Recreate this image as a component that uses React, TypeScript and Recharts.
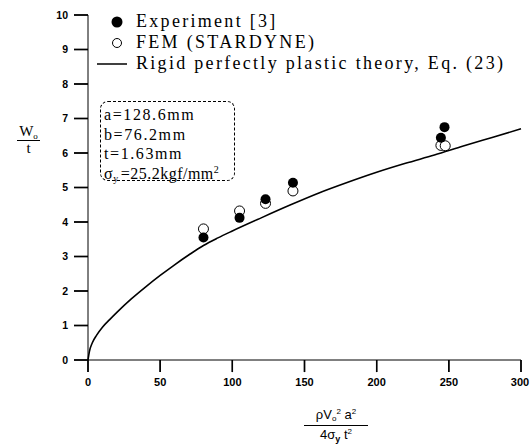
import React from "react";
import { ComposedChart, Scatter, Line, XAxis, YAxis, ReferenceLine } from "recharts";

// Experiment [3] (filled circles)
const expX = [80, 105, 123, 142, 244.5, 247];
const expY = [3.55, 4.12, 4.66, 5.14, 6.44, 6.75];

// FEM (STARDYNE) (open circles)
const femX = [80, 105, 123, 142, 244.5, 247.5];
const femY = [3.8, 4.32, 4.54, 4.9, 6.22, 6.21];

// Rigid perfectly plastic theory, Eq. (23)
const theoryX = [0, 1, 3, 6, 10, 15, 20, 30, 40, 50, 60, 70, 80, 90, 100, 120, 140, 160, 180, 200, 220, 240, 260, 280, 300];
const theoryY = [0, 0.25, 0.5, 0.72, 0.95, 1.17, 1.38, 1.77, 2.12, 2.45, 2.76, 3.05, 3.32, 3.54, 3.74, 4.12, 4.49, 4.84, 5.15, 5.44, 5.7, 5.94, 6.2, 6.45, 6.7];

const xTicks = [0, 50, 100, 150, 200, 250, 300];
const yTicks = [0, 1, 2, 3, 4, 5, 6, 7, 8, 9, 10];

const toPoints = (xs: number[], ys: number[]) => xs.map((x, i) => ({ x, y: ys[i] }));

const expData = toPoints(expX, expY);
const femData = toPoints(femX, femY);
const theoryData = toPoints(theoryX, theoryY);

const serif = "'Liberation Serif', 'Times New Roman', serif";
const sans = "'Liberation Sans', Arial, sans-serif";

// tick mark lengths, in axis units (about 14px / 12px)
const Y_TICK_LEN = 9.7;
const X_TICK_LEN = 0.35;

const sub = (size: number): React.CSSProperties => ({ fontSize: size, lineHeight: 0, verticalAlign: "-0.3em" });
const sup = (size: number): React.CSSProperties => ({ fontSize: size, lineHeight: 0, verticalAlign: "0.6em" });

const FilledDot = (props: any) => (
  <circle cx={props.cx} cy={props.cy} r={5} fill="#000" />
);
const OpenDot = (props: any) => (
  <circle cx={props.cx} cy={props.cy} r={5} fill="#fff" stroke="#000" strokeWidth={1} />
);

const XTick = (props: any) => (
  <text x={props.x} y={props.y} dy="0.75em" textAnchor="middle" fill="#000" fontSize={11} fontWeight={700} fontFamily={sans}>
    {props.payload.value}
  </text>
);

const YTick = (props: any) => (
  <text x={props.x} y={props.y} dy="0.36em" textAnchor="end" fill="#000" fontSize={10.5} fontWeight={700} fontFamily={sans}>
    {props.payload.value}
  </text>
);

export default function App() {
  return (
    <div style={{ position: "absolute", left: 0, top: 0, width: 532, height: 447, background: "#fff" }}>
      <ComposedChart width={532} height={447} margin={{ top: 15, right: 11, bottom: 0, left: 0 }}>
        <XAxis
          type="number"
          dataKey="x"
          domain={[0, 300]}
          ticks={xTicks}
          height={87}
          tickSize={12}
          tickMargin={6}
          stroke="#000"
          tickLine={{ stroke: "#000", strokeWidth: 1.4 }}
          tick={XTick}
        />
        <YAxis
          type="number"
          dataKey="y"
          domain={[0, 10]}
          ticks={yTicks}
          width={88}
          tickSize={14}
          tickMargin={6}
          stroke="#000"
          tickLine={{ stroke: "#000", strokeWidth: 1.4 }}
          tick={YTick}
        />
        {yTicks.map((v) => (
          <ReferenceLine
            key={`yt-${v}`}
            segment={[{ x: -Y_TICK_LEN, y: v }, { x: 0, y: v }]}
            ifOverflow="visible"
            stroke="#000"
            strokeWidth={1.4}
          />
        ))}
        {xTicks.map((v) => (
          <ReferenceLine
            key={`xt-${v}`}
            segment={[{ x: v, y: 0 }, { x: v, y: -X_TICK_LEN }]}
            ifOverflow="visible"
            stroke="#000"
            strokeWidth={1.4}
          />
        ))}
        <Line
          data={theoryData}
          dataKey="y"
          type="monotone"
          stroke="#000"
          strokeWidth={1.6}
          dot={false}
          activeDot={false}
          isAnimationActive={false}
        />
        <Scatter data={femData} dataKey="y" shape={OpenDot} isAnimationActive={false} />
        <Scatter data={expData} dataKey="y" shape={FilledDot} isAnimationActive={false} />
      </ComposedChart>

      {/* legend */}
      <svg style={{ position: "absolute", left: 0, top: 0 }} width={140} height={80}>
        <circle cx={117} cy={22} r={5.5} fill="#000" />
        <circle cx={117} cy={43} r={4.5} fill="#fff" stroke="#000" strokeWidth={1} />
        <line x1={97} x2={127} y1={64} y2={64} stroke="#000" strokeWidth={1.5} />
      </svg>
      <div
        style={{
          position: "absolute",
          left: 136,
          top: 11,
          fontFamily: serif,
          fontSize: 18,
          lineHeight: "21px",
          letterSpacing: 2.3,
          color: "#000",
          whiteSpace: "nowrap",
        }}
      >
        <div>Experiment [3]</div>
        <div>FEM (STARDYNE)</div>
        <div>Rigid perfectly plastic theory, Eq. (23)</div>
      </div>

      {/* parameter box */}
      <div
        style={{
          position: "absolute",
          left: 100,
          top: 101,
          width: 135,
          height: 80,
          border: "1px dashed #000",
          borderRadius: 8,
          fontFamily: serif,
          fontSize: 16,
          lineHeight: "19.5px",
          letterSpacing: 1.6,
          color: "#000",
          padding: "3px 0 0 3px",
          boxSizing: "border-box",
          whiteSpace: "nowrap",
        }}
      >
        <div>a=128.6mm</div>
        <div>b=76.2mm</div>
        <div>t=1.63mm</div>
        <div style={{ letterSpacing: 0.5 }}>
          σ<span style={{ ...sub(10), marginRight: 2 }}>y</span>=25.2kgf/mm<span style={sup(10)}>2</span>
        </div>
      </div>

      {/* y axis title */}
      <div
        style={{
          position: "absolute",
          left: 17,
          top: 124,
          width: 23,
          textAlign: "center",
          fontFamily: serif,
          fontSize: 15,
          lineHeight: "15px",
          color: "#000",
        }}
      >
        <div style={{ borderBottom: "1px solid #000", paddingBottom: 1 }}>
          W<span style={sub(9)}>o</span>
        </div>
        <div>t</div>
      </div>

      {/* x axis title */}
      <div
        style={{
          position: "absolute",
          left: 304,
          top: 408,
          width: 64,
          textAlign: "center",
          fontFamily: sans,
          fontSize: 13,
          lineHeight: "14px",
          color: "#000",
          whiteSpace: "nowrap",
        }}
      >
        <div style={{ borderBottom: "1px solid #000", paddingBottom: 3 }}>
          ρV<span style={sub(8)}>o</span>
          <span style={sup(8)}>2</span> a<span style={sup(8)}>2</span>
        </div>
        <div style={{ paddingTop: 2 }}>
          4σ<span style={{ ...sub(9), fontWeight: 700 }}>y</span> t<span style={sup(8)}>2</span>
        </div>
      </div>
    </div>
  );
}
